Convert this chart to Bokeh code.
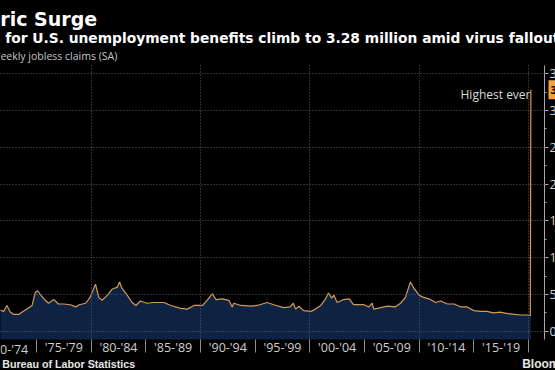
from bokeh.plotting import figure
from bokeh.models import Range1d, FixedTicker, Label, GlobalInlineStyleSheet
from bokeh.embed import file_html
from bokeh.resources import INLINE

# ---------------- data ----------------
years = [1971.6, 1972.0, 1972.3, 1972.6, 1972.9, 1973.4, 1973.8, 1974.3, 1974.6, 1974.9,
         1975.1, 1975.4, 1975.8, 1976.1, 1976.6, 1977.0, 1977.5, 1978.1, 1978.6, 1978.9,
         1979.5, 1979.9, 1980.4, 1980.7, 1981.0, 1981.5, 1981.9, 1982.4, 1982.6, 1982.8,
         1983.3, 1983.75, 1984.1, 1984.5, 1985.1, 1985.7, 1986.65, 1987.3, 1988.2, 1988.8,
         1989.4, 1990.2, 1990.6, 1991.1, 1991.4, 1992.0, 1992.6, 1992.9, 1993.05, 1993.7,
         1994.6, 1995.2, 1996.1, 1996.7, 1997.6, 1998.2, 1998.5, 1998.7, 1999.0, 1999.45,
         2000.1, 2000.4, 2001.0, 2001.4, 2001.7, 2002.0, 2002.2, 2002.5, 2003.1, 2003.6,
         2004.0, 2004.95, 2005.4, 2005.7, 2005.85, 2006.5, 2007.1, 2007.8, 2008.3, 2008.75,
         2009.2, 2009.5, 2010.0, 2010.4, 2010.9, 2011.5, 2011.95, 2012.6, 2013.2, 2013.8,
         2014.4, 2015.0, 2015.6, 2016.2, 2016.8, 2017.4, 2018.1, 2018.7, 2019.3, 2019.9,
         2020.17, 2020.22]
claims_k = [290, 270, 350, 260, 230, 230, 270, 320, 350, 530,
            550, 490, 420, 380, 430, 370, 370, 360, 330, 360,
            380, 460, 640, 460, 420, 490, 570, 600, 670, 590,
            490, 390, 350, 410, 380, 390, 390, 350, 310, 300,
            350, 350, 420, 510, 430, 440, 420, 330, 380, 350,
            340, 350, 390, 360, 320, 330, 380, 300, 340, 280,
            270, 290, 350, 430, 520, 450, 490, 390, 430, 440,
            360, 360, 330, 380, 300, 320, 340, 330, 380, 460,
            670, 590, 490, 460, 440, 390, 410, 370, 370, 330,
            330, 280, 270, 270, 250, 260, 240, 230, 220, 220,
            210, 3283]
assert len(years) == len(claims_k)

period_mid = [1972.5, 1977.5, 1982.5, 1987.5, 1992.5, 1997.5, 2002.5, 2007.5, 2012.5, 2017.5]
period_labels = ["'70-'74", "'75-'79", "'80-'84", "'85-'89", "'90-'94",
                 "'95-'99", "'00-'04", "'05-'09", "'10-'14", "'15-'19"]
period_edges = [1970, 1975, 1980, 1985, 1990, 1995, 2000, 2005, 2010, 2015, 2020]
decade_grid = [1970, 1980, 1990, 2000, 2010, 2020]
y_ticks = [0, 500, 1000, 1500, 2000, 2500, 3000, 3500]
y_minor = [250, 750, 1250, 1750, 2250, 2750, 3250]
y_labels = ["0", "500K", "1.0M", "1.5M", "2.0M", "2.5M", "3.0M", "3.5M"]
peak_value = 3283
peak_label = "3.28M"

title_text = "Historic Surge"
subtitle_text = "Claims for U.S. unemployment benefits climb to 3.28 million amid virus fallout"
unit_text = "Weekly jobless claims (SA)"
note_text = "Highest ever"
source_text = "Source: Bureau of Labor Statistics"
brand_text = "Bloomberg"

# ---------------- layout (page pixels; the page is a crop of a wider chart) ----------------
W, H = 555, 370
CHART_L, CHART_R, CHART_T, CHART_B = 0, 544, 65, 339   # plotting area inside the canvas
YR_LO, YR_HI = 1971.71, 2021.467                        # years at chart left / right
K_LO, K_HI = -112.9, 3613.0                             # claims (k) at chart bottom / top


def fx(px):
    return YR_LO + (px - CHART_L) * (YR_HI - YR_LO) / (CHART_R - CHART_L)


def fy(py):
    return K_LO + (CHART_B - py) * (K_HI - K_LO) / (CHART_B - CHART_T)


BG = "#000000"
AXIS_TEXT = "#cfcfcf"
p = figure(width=W, height=H, x_range=Range1d(fx(0), fx(W)), y_range=Range1d(fy(H), fy(0)),
           output_backend="svg", toolbar_location=None, y_axis_location="right",
           min_border=0, background_fill_color=BG, border_fill_color=BG,
           outline_line_color=None, title=None)
p.stylesheets = [GlobalInlineStyleSheet(
    css="html, body {margin:0; padding:0; background-color:#000000; overflow:hidden;}")]

# area + line
p.varea(x=years, y1=K_LO, y2=claims_k, fill_color="#0e2343", fill_alpha=1.0)
p.line(x=years, y=claims_k, line_color="#d69a52", line_width=1.2)

# grids (limited to the chart area)
p.xgrid.ticker = FixedTicker(ticks=decade_grid)
p.ygrid.ticker = FixedTicker(ticks=y_ticks)
for g in p.grid:
    g.grid_line_color = "#5e5e5e"
    g.grid_line_dash = "1 2"
    g.grid_line_width = 1
    g.level = "overlay"
if "cross_bounds" in p.xgrid[0].properties():
    p.xgrid[0].cross_bounds = (K_LO, K_HI)
    p.ygrid[0].cross_bounds = (YR_LO, YR_HI)

# bottom axis: period labels between 5-year separators.
# The first period's label runs off the left edge of the crop, so it is drawn as a plain
# label at its tick position (the axis would otherwise pull it back inside the canvas).
xa = p.xaxis[0]
xa.fixed_location = K_LO
xa.ticker = FixedTicker(ticks=period_mid[1:], minor_ticks=period_edges)
xa.major_label_overrides = dict(zip(period_mid[1:], period_labels[1:]))
xa.major_tick_line_color = None
xa.major_tick_out = 0
xa.major_tick_in = 0
xa.minor_tick_in = 0
xa.minor_tick_out = 13
xa.minor_tick_line_color = "#8c8c8c"
xa.axis_line_color = None
xa.major_label_standoff = -14
xa.major_label_text_color = AXIS_TEXT
xa.major_label_text_font = "Open Sans"
xa.major_label_text_font_size = "12.5px"
p.add_layout(Label(x=period_mid[0], y=fy(348.5), text=period_labels[0], text_align="center",
                   text_baseline="middle", text_color=AXIS_TEXT, text_font="Open Sans",
                   text_font_size="12.5px"))

# right axis at the chart's right edge
ya = p.yaxis[0]
ya.fixed_location = YR_HI
ya.bounds = (K_LO, K_HI)
ya.ticker = FixedTicker(ticks=y_ticks, minor_ticks=y_minor)
ya.major_label_overrides = dict(zip(y_ticks, y_labels))
ya.major_label_standoff = 1
ya.major_label_text_color = AXIS_TEXT
ya.major_label_text_font = "Open Sans"
ya.major_label_text_font_size = "12.5px"
ya.axis_line_color = "#a8a8a8"
ya.major_tick_line_color = "#a8a8a8"
ya.minor_tick_line_color = "#a8a8a8"
ya.major_tick_out = 4
ya.major_tick_in = 0
ya.minor_tick_out = 2
ya.minor_tick_in = 0

# latest-value badge
p.add_layout(Label(x=fx(548), y=peak_value, text=peak_label, text_align="left",
                   text_baseline="middle", text_color="#000000", text_font="Open Sans",
                   text_font_size="11px", text_font_style="bold",
                   background_fill_color="#f2a43e", padding=2, level="overlay"))

p.add_layout(Label(x=fx(530), y=fy(94), text=note_text, text_align="right",
                   text_baseline="alphabetic", text_color="#d9d9d9",
                   text_font="Open Sans", text_font_size="12px"))

# header
p.add_layout(Label(x=fx(-56), y=fy(18), text=title_text, text_align="left",
                   text_baseline="alphabetic", text_color="#ffffff",
                   text_font="DejaVu Sans", text_font_size="19px", text_font_style="bold"))
p.add_layout(Label(x=fx(-51.6), y=fy(37.5), text=subtitle_text, text_align="left",
                   text_baseline="alphabetic", text_color="#ffffff",
                   text_font="DejaVu Sans", text_font_size="13.8px", text_font_style="bold"))
p.add_layout(Label(x=fx(-9.8), y=fy(55.5), text=unit_text, text_align="left",
                   text_baseline="alphabetic", text_color="#c4c4c4",
                   text_font="Open Sans", text_font_size="10.5px"))

# footer
p.add_layout(Label(x=fx(-41.1), y=fy(363), text=source_text, text_align="left",
                   text_baseline="alphabetic", text_color="#e6e6e6",
                   text_font="Liberation Sans", text_font_size="10.7px", text_font_style="bold"))
p.add_layout(Label(x=fx(521.7), y=fy(363), text=brand_text, text_align="left",
                   text_baseline="alphabetic", text_color="#e6e6e6",
                   text_font="Liberation Sans", text_font_size="12px", text_font_style="bold"))

open("out.html", "w").write(file_html(p, INLINE))
